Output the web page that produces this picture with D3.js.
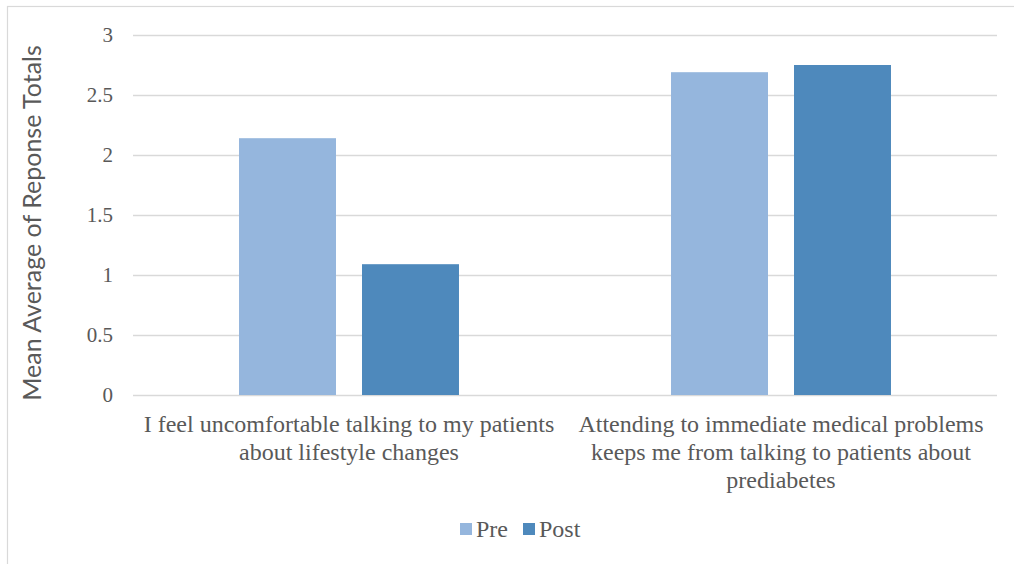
<!DOCTYPE html>
<html>
<head>
<meta charset="utf-8">
<script src="https://cdn.jsdelivr.net/npm/d3@7"></script>
<style>
  html, body { margin: 0; padding: 0; background: #fff; }
  svg { display: block; }
</style>
</head>
<body>
<svg id="chart" width="1014" height="564"></svg>
<script>
// Survey statements (categories) and mean responses before / after
const categories = [
  "I feel uncomfortable talking to my patients about lifestyle changes",
  "Attending to immediate medical problems keeps me from talking to patients about prediabetes"
];
const seriesNames = ["Pre", "Post"];
const preValues = [2.14, 2.69];
const postValues = [1.09, 2.75];
const yTicks = [0, 0.5, 1, 1.5, 2, 2.5, 3];
const yTitle = "Mean Average of Reponse Totals";

const colors = { Pre: "#95b6dd", Post: "#4e89bc" };
const textColor = "#595959";
const gridColor = "#d9d9d9";
const serif = "'Liberation Serif', 'Times New Roman', serif";

const svg = d3.select("#chart");
const plot = { left: 133, right: 997, top: 35, bottom: 395 };

// chart area frame
svg.append("rect")
  .attr("x", 7.5).attr("y", 6.5)
  .attr("width", 1100).attr("height", 700)
  .attr("fill", "none")
  .attr("stroke", gridColor)
  .attr("stroke-width", 1.2);

const rows = categories.map((c, i) => ({
  category: c,
  values: [
    { series: "Pre", value: preValues[i] },
    { series: "Post", value: postValues[i] }
  ]
}));

const x0 = d3.scaleBand()
  .domain(categories)
  .range([plot.left, plot.right])
  .paddingInner(0).paddingOuter(0);

const x1 = d3.scaleBand()
  .domain(seriesNames)
  .range([0, x0.bandwidth()])
  .paddingInner(0.2114)
  .paddingOuter(0.862);

const y = d3.scaleLinear()
  .domain([0, 3])
  .range([plot.bottom, plot.top]);

// gridlines and value labels
const yAxis = d3.axisLeft(y)
  .tickValues(yTicks)
  .tickSize(-(plot.right - plot.left))
  .tickPadding(20)
  .tickFormat(d3.format("~g"));

const gy = svg.append("g")
  .attr("transform", `translate(${plot.left},0)`)
  .call(yAxis);
gy.select(".domain").remove();
gy.selectAll(".tick line")
  .attr("stroke", gridColor)
  .attr("stroke-width", 1.5);
gy.selectAll(".tick text")
  .attr("fill", textColor)
  .attr("font-family", serif)
  .attr("font-size", 21)
  .attr("dy", "0.33em");

// bars
const groups = svg.append("g").selectAll("g")
  .data(rows)
  .join("g")
  .attr("transform", d => `translate(${x0(d.category)},0)`);

groups.selectAll("rect")
  .data(d => d.values)
  .join("rect")
  .attr("x", d => x1(d.series))
  .attr("width", x1.bandwidth())
  .attr("y", d => y(d.value))
  .attr("height", d => y(0) - y(d.value))
  .attr("fill", d => colors[d.series]);

// category axis labels, wrapped to the band width
const xAxis = d3.axisBottom(x0).tickSize(0).tickPadding(0);
const gx = svg.append("g")
  .attr("transform", `translate(0,${plot.bottom})`)
  .call(xAxis);
gx.select(".domain").remove();

function wrap(textSel, width, lineHeight) {
  textSel.each(function() {
    const text = d3.select(this);
    const words = text.text().split(/\s+/);
    text.text(null);
    let line = [];
    let tspan = text.append("tspan").attr("x", 0).attr("dy", 0);
    for (const w of words) {
      line.push(w);
      tspan.text(line.join(" "));
      if (tspan.node().getComputedTextLength() > width && line.length > 1) {
        line.pop();
        tspan.text(line.join(" "));
        line = [w];
        tspan = text.append("tspan").attr("x", 0).attr("dy", lineHeight).text(w);
      }
    }
  });
}

gx.selectAll(".tick text")
  .attr("fill", textColor)
  .attr("font-family", serif)
  .attr("font-size", 24)
  .attr("y", 37)
  .attr("dy", 0)
  .call(wrap, 428, 28);

// y-axis title
svg.append("text")
  .attr("transform", `translate(${41},${(plot.top + plot.bottom) / 2 + 8}) rotate(-90)`)
  .attr("text-anchor", "middle")
  .attr("fill", textColor)
  .attr("font-family", "Lato, 'Open Sans', sans-serif")
  .attr("font-size", 25)
  .text(yTitle);

// legend
const legend = svg.append("g").attr("transform", "translate(460,523)");
const legendItems = legend.selectAll("g")
  .data(seriesNames)
  .join("g")
  .attr("transform", (d, i) => `translate(${i * 63},0)`);
legendItems.append("rect")
  .attr("width", 12).attr("height", 12)
  .attr("fill", d => colors[d]);
legendItems.append("text")
  .attr("x", 16).attr("y", 14)
  .attr("fill", textColor)
  .attr("font-family", serif)
  .attr("font-size", 24)
  .text(d => d);
</script>
</body>
</html>
